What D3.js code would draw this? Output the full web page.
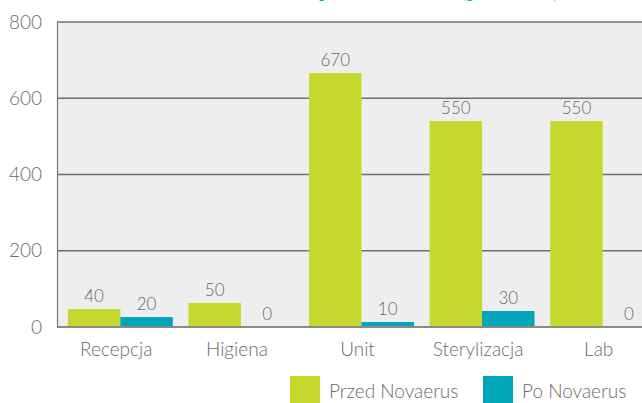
<!DOCTYPE html>
<meta charset="utf-8" />
<style>
  body {
    margin: 0;
    background: #fff;
  }

  text {
    font-family: Lato, "Open Sans", sans-serif;
    font-weight: 300;
    fill: #6b6b6b;
  }

  .grid line {
    stroke: #6f6f6f;
    stroke-width: 1.5px;
  }
</style>
<svg width="642" height="403"></svg>
<script src="https://d3js.org/d3.v7.min.js"></script>
<script>
  // categories and series
  var categories = ["Recepcja", "Higiena", "Unit", "Sterylizacja", "Lab"];
  var seriesNames = ["Przed Novaerus", "Po Novaerus"];
  var seriesColors = ["#c6d82e", "#00a5b9"];

  // bar heights as drawn in the picture
  var przed = [47, 63, 666, 540, 540];
  var po = [26, 0, 13, 42, 0];

  // numbers printed above the bars
  var przedLabels = ["40", "50", "670", "550", "550"];
  var poLabels = ["20", "0", "10", "30", "0"];

  var yTicks = [0, 200, 400, 600, 800];
  var title = "Liczba bakterii w powietrzu (jtk/m³)";

  var svg = d3.select("svg"),
    width = +svg.attr("width"),
    height = +svg.attr("height");

  var plotLeft = 57,
    plotTop = 22,
    plotBottom = 327;

  var x = d3
    .scaleBand()
    .domain(categories)
    .range([60, 663])
    .paddingInner(0.13)
    .paddingOuter(0.065);

  var x1 = d3
    .scaleBand()
    .domain(seriesNames)
    .range([0, x.bandwidth()]);

  var y = d3.scaleLinear().domain([0, 800]).range([plotBottom, plotTop]);

  // title (mostly cut off at the top)
  svg
    .append("text")
    .attr("x", 560)
    .attr("y", -4)
    .attr("text-anchor", "end")
    .style("font-size", "30px")
    .style("font-weight", 700)
    .style("fill", "#00a5b9")
    .text(title);

  // plot background
  svg
    .append("rect")
    .attr("x", plotLeft)
    .attr("y", plotTop)
    .attr("width", width - plotLeft)
    .attr("height", plotBottom - plotTop)
    .attr("fill", "#eeeeee");

  // gridlines
  svg
    .append("g")
    .attr("class", "grid")
    .selectAll("line")
    .data(yTicks.filter(function (d) {
      return d > 0;
    }))
    .enter()
    .append("line")
    .attr("x1", plotLeft)
    .attr("x2", width)
    .attr("y1", function (d) {
      return y(d);
    })
    .attr("y2", function (d) {
      return y(d);
    });

  // y axis
  var yAxis = svg
    .append("g")
    .attr("transform", "translate(" + plotLeft + ",0)")
    .call(d3.axisLeft(y).tickValues(yTicks).tickSize(0).tickPadding(15));
  yAxis.select(".domain").attr("stroke", "#777").attr("stroke-width", 1.2);
  yAxis
    .selectAll("text")
    .style("font-size", "19px")
    .style("font-family", "Lato, 'Open Sans', sans-serif")
    .attr("fill", "#6b6b6b");

  var rows = categories.map(function (c, i) {
    return [
      { cat: c, key: seriesNames[0], value: przed[i], label: przedLabels[i] },
      { cat: c, key: seriesNames[1], value: po[i], label: poLabels[i] },
    ];
  });

  var groups = svg
    .append("g")
    .selectAll("g")
    .data(rows)
    .enter()
    .append("g")
    .attr("transform", function (d) {
      return "translate(" + x(d[0].cat) + ",0)";
    });

  groups
    .selectAll("rect")
    .data(function (d) {
      return d;
    })
    .enter()
    .append("rect")
    .attr("x", function (d) {
      return x1(d.key);
    })
    .attr("width", x1.bandwidth())
    .attr("y", function (d) {
      return y(d.value);
    })
    .attr("height", function (d) {
      return y(0) - y(d.value);
    })
    .attr("fill", function (d, i) {
      return seriesColors[i];
    });

  groups
    .selectAll(".val")
    .data(function (d) {
      return d;
    })
    .enter()
    .append("text")
    .attr("class", "val")
    .attr("x", function (d) {
      return x1(d.key) + x1.bandwidth() / 2;
    })
    .attr("y", function (d) {
      return y(d.value) - 7;
    })
    .attr("text-anchor", "middle")
    .style("font-size", "17px")
    .text(function (d) {
      return d.label;
    });

  // baseline
  svg
    .append("line")
    .attr("x1", plotLeft)
    .attr("x2", width)
    .attr("y1", y(0))
    .attr("y2", y(0))
    .attr("stroke", "#8a8a8a")
    .attr("stroke-width", 2);

  // category labels
  svg
    .append("g")
    .selectAll("text")
    .data(categories)
    .enter()
    .append("text")
    .attr("x", function (d) {
      return x(d) + x.bandwidth() / 2 - 4;
    })
    .attr("y", 356)
    .attr("text-anchor", "middle")
    .style("font-size", "19px")
    .text(function (d) {
      return d;
    });

  // legend
  var legendX = [290, 483];
  var legend = svg
    .append("g")
    .selectAll("g")
    .data(seriesNames)
    .enter()
    .append("g")
    .attr("transform", function (d, i) {
      return "translate(" + legendX[i] + ",376)";
    });

  legend
    .append("rect")
    .attr("width", 30)
    .attr("height", 30)
    .attr("fill", function (d, i) {
      return seriesColors[i];
    });

  legend
    .append("text")
    .attr("x", 39)
    .attr("y", 22)
    .style("font-size", "19px")
    .text(function (d) {
      return d;
    });
</script>
